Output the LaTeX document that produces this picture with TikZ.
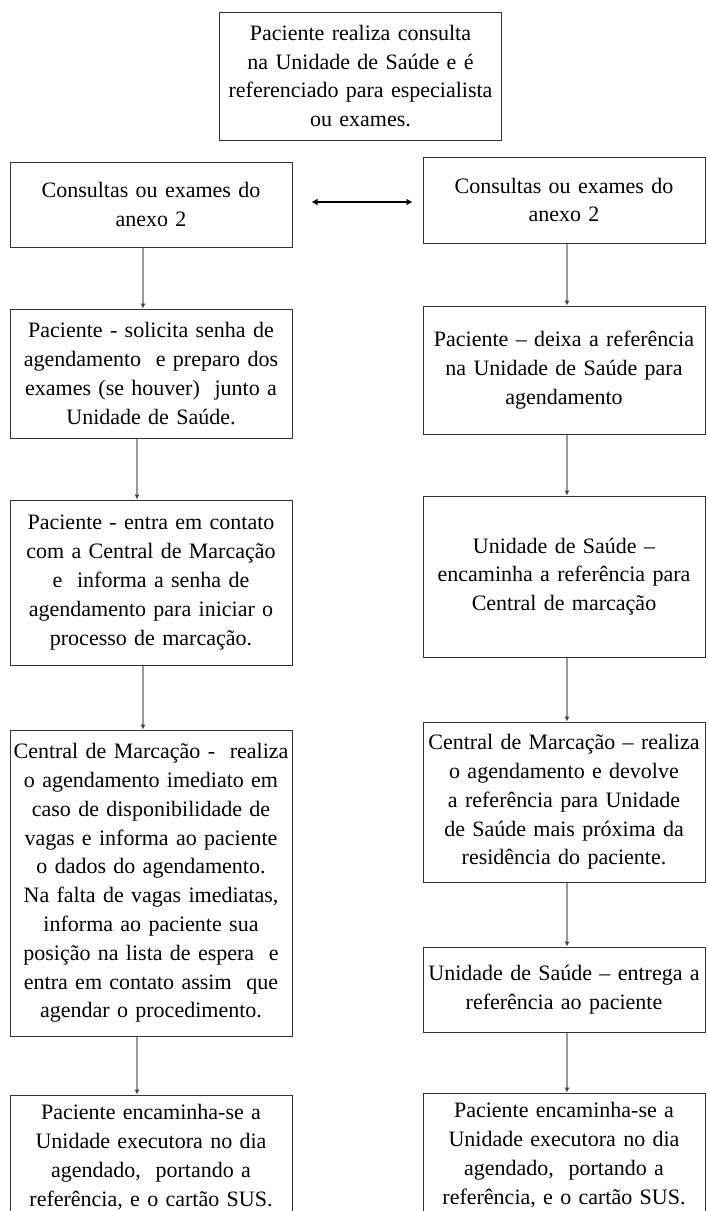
\documentclass[tikz,border=0pt]{standalone}
\usepackage{fontspec}
\setmainfont{Liberation Serif}
\usetikzlibrary{positioning, arrows.meta}
\newcommand{\texto}{\fontsize{22}{28.8}\selectfont}

\begin{document}
\begin{tikzpicture}[x=1pt, y=1pt,
	caixa/.style={draw=black!80, line width=1pt, align=center, text width=280pt, minimum width=282pt, inner xsep=1pt, inner ysep=0pt, font=\texto},
	seta/.style={draw=black!40, line width=1.8pt, -{Latex[color=black!75, length=5pt, width=5pt]}},
	dupla/.style={line width=1.6pt, {Latex[length=6pt, width=7pt]}-{Latex[length=6pt, width=7pt]}}]
	\useasboundingbox (0,0) rectangle (708,-1211);
	\clip (0,0) rectangle (708,-1211);
	
	\node[caixa, minimum height=128pt] (topo) at (360.5,-76) {Paciente realiza consulta\\na Unidade de Saúde e é\\referenciado para especialista\\ou exames.};
	
	\node[caixa, minimum height=85pt] (l1) at (151,-204.5) {Consultas ou exames do\\anexo 2};
	\node[caixa, minimum height=129pt, below=61pt of l1] (l2) {Paciente - solicita senha de\\agendamento~ e preparo dos\\exames (se houver)~ junto a\\Unidade de Saúde.};
	\node[caixa, minimum height=165pt, below=61pt of l2] (l3) {Paciente - entra em contato\\com a Central de Marcação\\e~ informa a senha de\\agendamento para iniciar o\\processo de marcação.};
	\node[caixa, minimum height=306pt, below=64pt of l3] (l4) {Central de Marcação -~ realiza\\o agendamento imediato em\\caso de disponibilidade de\\vagas e informa ao paciente\\o dados do agendamento.\\Na falta de vagas imediatas,\\informa ao paciente sua\\posição na lista de espera~ e\\entra em contato assim~ que\\agendar o procedimento.};
	\node[caixa, minimum height=124pt, below=58pt of l4] (l5) {Paciente encaminha-se a\\Unidade executora no dia\\agendado,~ portando a\\referência, e o cartão SUS.};
	
	\node[caixa, minimum height=86pt] (r1) at (564,-200) {Consultas ou exames do\\anexo 2};
	\node[caixa, minimum height=128pt, below=62pt of r1] (r2) {Paciente – deixa a referência\\na Unidade de Saúde para\\agendamento};
	\node[caixa, minimum height=161pt, below=61pt of r2] (r3) {Unidade de Saúde –\\encaminha a referência para\\Central de marcação};
	\node[caixa, minimum height=160pt, below=64pt of r3] (r4) {Central de Marcação – realiza\\o agendamento e devolve\\a referência para Unidade\\de Saúde mais próxima da\\residência do paciente.};
	\node[caixa, minimum height=85pt, below=64pt of r4] (r5) {Unidade de Saúde – entrega a\\referência ao paciente};
	\node[caixa, minimum height=124pt, below=60pt of r5] (r6) {Paciente encaminha-se a\\Unidade executora no dia\\agendado,~ portando a\\referência, e o cartão SUS.};
	
	\coordinate (meio) at (0,-202);
	\draw[dupla, shorten <=19pt, shorten >=10pt] (l1.east |- meio) -- (r1.west |- meio);
	
	\draw[seta] ([xshift=-8pt]l1.south) -- ([xshift=-8pt]l2.north);
	\draw[seta] ([xshift=-14pt]l2.south) -- ([xshift=-14pt]l3.north);
	\draw[seta] ([xshift=-8pt]l3.south) -- ([xshift=-8pt]l4.north);
	\draw[seta] ([xshift=-14pt]l4.south) -- ([xshift=-14pt]l5.north);
	
	\draw[seta] ([xshift=3pt]r1.south) -- ([xshift=3pt]r2.north);
	\draw[seta] ([xshift=3pt]r2.south) -- ([xshift=3pt]r3.north);
	\draw[seta] ([xshift=3pt]r3.south) -- ([xshift=3pt]r4.north);
	\draw[seta] ([xshift=3pt]r4.south) -- ([xshift=3pt]r5.north);
	\draw[seta] ([xshift=3pt]r5.south) -- ([xshift=3pt]r6.north);
\end{tikzpicture}
\end{document}
